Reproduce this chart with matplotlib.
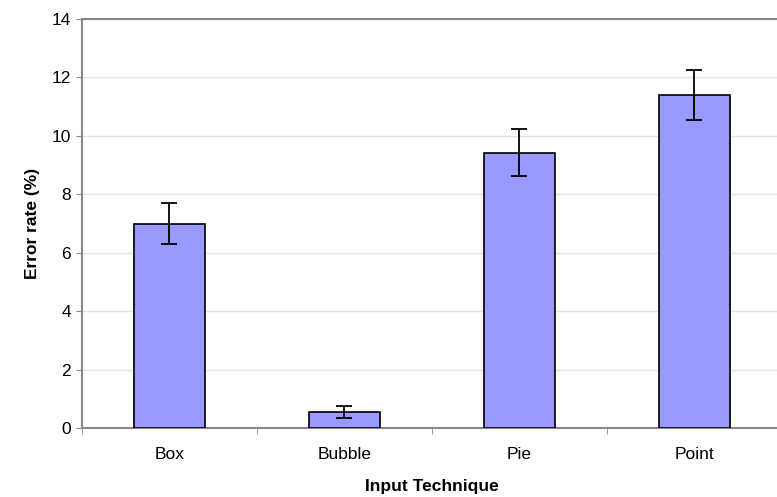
import matplotlib
matplotlib.use("Agg")
import matplotlib.pyplot as plt
import numpy as np

techniques = ["Box", "Bubble", "Pie", "Point"]
error_rate = [7.0, 0.55, 9.42, 11.4]
error_sd = [0.7, 0.2, 0.8, 0.85]

plt.rcParams['font.family'] = ['Liberation Sans', 'DejaVu Sans']

fig = plt.figure(figsize=(7.77, 4.97), dpi=100)
ax = fig.add_axes([0.1055, 0.1388, 0.9009, 0.823])

x = np.arange(len(techniques))
ax.bar(x, error_rate, width=0.41, color='#9999FF', edgecolor='black', linewidth=1.2, zorder=3)
ax.errorbar(x, error_rate, yerr=error_sd, fmt='none', ecolor='black', elinewidth=1.3,
            capsize=6, capthick=1.3, zorder=4)

ax.set_xlim(-0.5, len(techniques) - 0.5)
ax.set_ylim(0, 14)
ax.set_yticks(range(0, 15, 2))
ax.set_xticks(x)
ax.set_xticklabels(techniques)
ax.set_xticks(np.arange(-0.5, len(techniques)), minor=True)
ax.tick_params(axis='x', which='major', length=0, pad=14, labelsize=12.5)
ax.tick_params(axis='x', which='minor', length=4, color='#888888', direction='out')
ax.tick_params(axis='y', length=4, color='#888888', labelsize=12.5, pad=4)

ax.yaxis.grid(True, color='#e4e4e4', linewidth=1, zorder=0)
for side in ['left', 'top', 'bottom', 'right']:
    ax.spines[side].set_color('#888888')
    ax.spines[side].set_linewidth(1.5)

ax.set_xlabel('Input Technique', fontsize=12.5, fontweight='bold', labelpad=12)
ax.set_ylabel('Error rate (%)', fontsize=12.5, fontweight='bold', labelpad=8)

fig.savefig('out.png', dpi=100)
